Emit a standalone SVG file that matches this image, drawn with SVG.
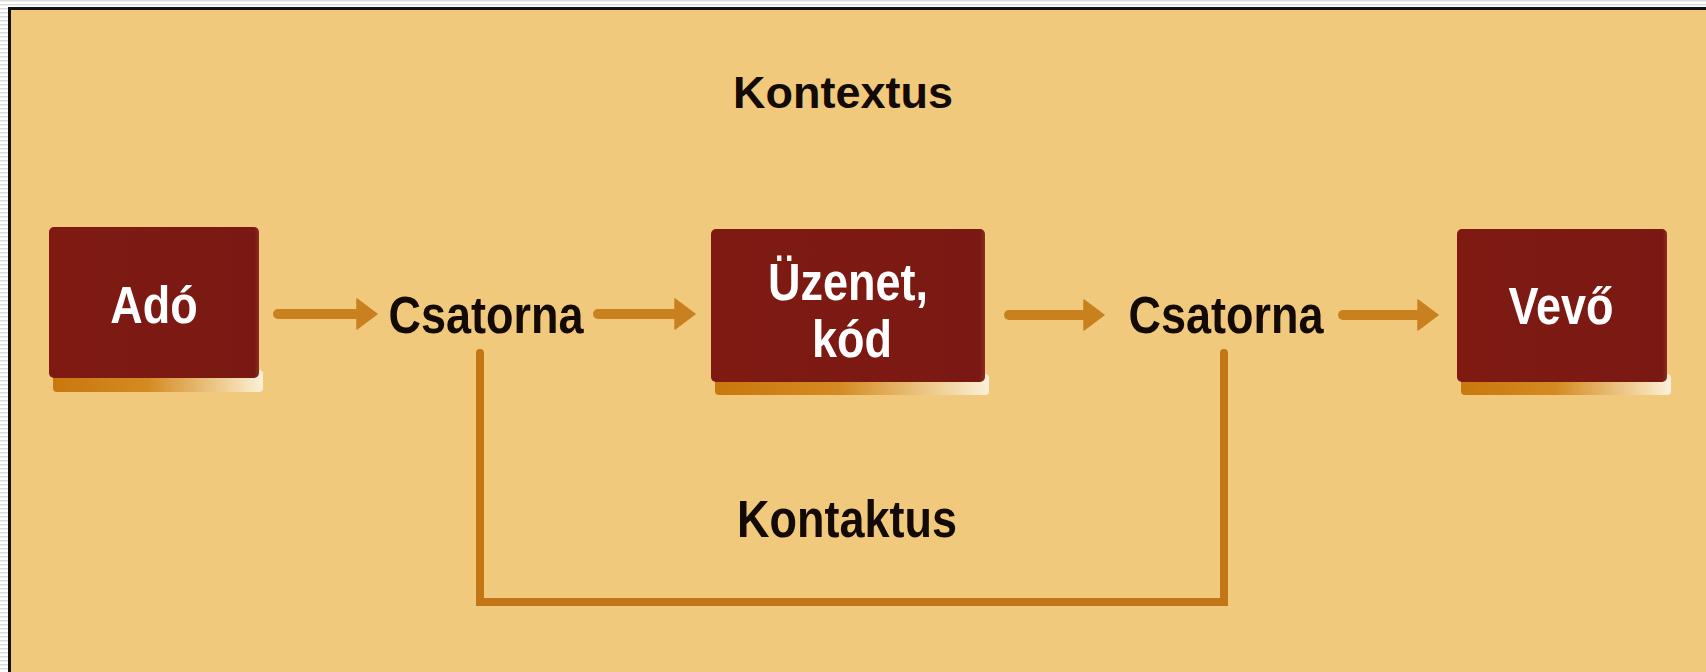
<svg xmlns="http://www.w3.org/2000/svg" width="1706" height="672" viewBox="0 0 1706 672">
<defs>
<pattern id="stripes" width="8" height="4" patternUnits="userSpaceOnUse">
<rect width="8" height="4" fill="#ffffff"/>
<rect y="0" width="8" height="1.5" fill="#dcdcdc"/>
</pattern>
<linearGradient id="shadow" x1="0" y1="0" x2="1" y2="0">
<stop offset="0" stop-color="#C8780F"/>
<stop offset="0.45" stop-color="#D48A22"/>
<stop offset="0.85" stop-color="#F2D5A0"/>
<stop offset="1" stop-color="#FBF0DA"/>
</linearGradient>
<linearGradient id="boxfill" x1="0" y1="0" x2="1" y2="0">
<stop offset="0" stop-color="#7E1A12"/>
<stop offset="0.98" stop-color="#7A1913"/>
<stop offset="1" stop-color="#883020"/>
</linearGradient>
<marker id="head" viewBox="0 0 22 32" refX="1" refY="16" markerWidth="22" markerHeight="32" markerUnits="userSpaceOnUse" orient="auto">
<path d="M1,1 L21,16 L1,31 Z" fill="#C9801E" stroke="#C9801E" stroke-width="1.5" stroke-linejoin="round"/>
</marker>
<style>
.box{fill:url(#boxfill);}
.sh{fill:url(#shadow);}
.wt{font-family:"Liberation Sans",Arial,sans-serif;font-weight:bold;font-size:45px;fill:#ffffff;text-anchor:middle;}
.bt{font-family:"Liberation Sans",Arial,sans-serif;font-weight:bold;font-size:45px;fill:#140a05;text-anchor:middle;}
.arr{stroke:#C9801E;stroke-width:10;stroke-linecap:round;fill:none;}
.brk{stroke:#C27615;stroke-width:8;stroke-linecap:round;stroke-linejoin:miter;fill:none;}
</style>
</defs>
<rect x="0" y="0" width="1706" height="672" fill="url(#stripes)"/>
<rect x="9.5" y="8.5" width="1710" height="680" fill="#F0C97C" stroke="#111111" stroke-width="3"/>

<g id="connectors">
<line class="arr" x1="278" y1="314" x2="357" y2="314" marker-end="url(#head)"/>
<line class="arr" x1="598" y1="314" x2="675" y2="314" marker-end="url(#head)"/>
<line class="arr" x1="1009" y1="315" x2="1084" y2="315" marker-end="url(#head)"/>
<line class="arr" x1="1343" y1="315" x2="1418" y2="315" marker-end="url(#head)"/>
<path class="brk" d="M480,353 V602 H1224 V353"/>
</g>

<g id="node-ado">
<rect class="sh" x="53" y="370" width="210" height="22" rx="4"/>
<rect class="box" x="49" y="227" width="210" height="151" rx="5"/>
<text class="wt" transform="translate(154,323) scale(1,1.15)">Adó</text>
</g>

<g id="node-csatorna1">
<text class="bt" transform="translate(486,333) scale(1,1.15)">Csatorna</text>
</g>

<g id="node-uzenet">
<rect class="sh" x="715" y="374" width="274" height="21" rx="4"/>
<rect class="box" x="711" y="229" width="274" height="153" rx="5"/>
<text class="wt" transform="translate(848,300) scale(1,1.15)">Üzenet,</text>
<text class="wt" transform="translate(852,357) scale(1,1.15)">kód</text>
</g>

<g id="node-csatorna2">
<text class="bt" transform="translate(1226,333) scale(1,1.15)">Csatorna</text>
</g>

<g id="node-vevo">
<rect class="sh" x="1461" y="374" width="210" height="21" rx="4"/>
<rect class="box" x="1457" y="229" width="210" height="153" rx="5"/>
<text class="wt" transform="translate(1561,324) scale(1,1.15)">Vevő</text>
</g>

<g id="label-kontextus">
<text class="bt" transform="translate(843,108) scale(1,0.97)">Kontextus</text>
</g>

<g id="label-kontaktus">
<text class="bt" transform="translate(847,537) scale(1,1.15)">Kontaktus</text>
</g>
</svg>
